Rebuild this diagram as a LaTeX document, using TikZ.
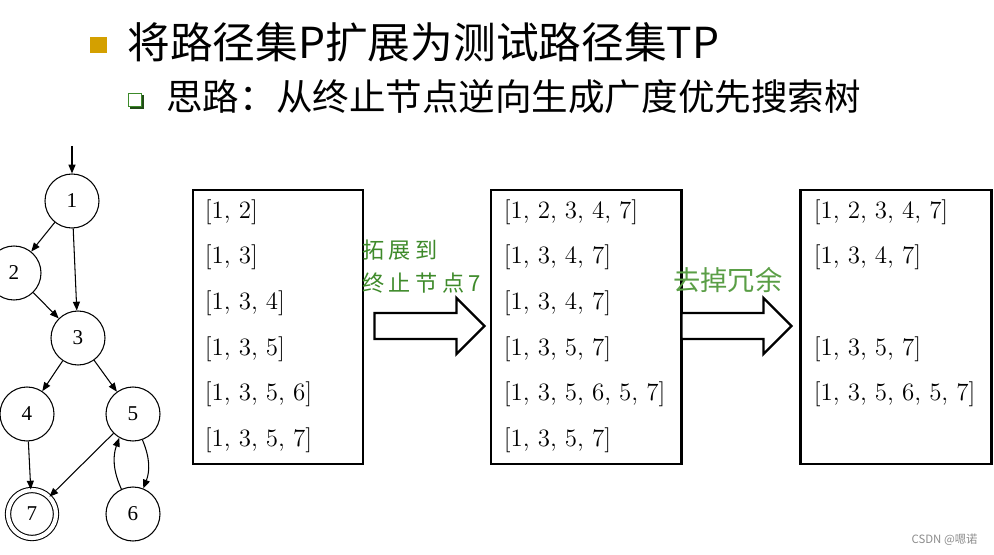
\documentclass[tikz,border=0pt]{standalone}
\usepackage{fontspec}
\usepackage{xcolor}
\usepackage{tikz}
\usetikzlibrary{arrows.meta,positioning,calc}
\newfontfamily\cjk{Noto Sans CJK SC}
\newfontfamily\cjkspaced[LetterSpace=20]{Noto Sans CJK SC}
\newfontfamily\timesfont{Liberation Serif}
\definecolor{bulletgold}{HTML}{D4A000}
\definecolor{bulletgreen}{HTML}{3C8A2A}
\definecolor{notegreen}{HTML}{3E8A2A}
\definecolor{notegreenlight}{HTML}{5A9E46}
\definecolor{markgray}{HTML}{8C8C8C}

\begin{document}
\begin{tikzpicture}[x=0.2mm, y=-0.2mm, >={Triangle[length=5pt, width=4pt]},
    state/.style={circle, draw, line width=0.6pt, minimum size=10.8mm, inner sep=0pt,
                  font=\timesfont\fontsize{12}{12}\selectfont},
    finalstate/.style={state, minimum size=9.6mm, double, double distance=2.4pt},
    edge/.style={->, line width=0.6pt},
    listbox/.style={draw, line width=1.7pt, minimum height=54.8mm, inner sep=0pt},
    pathtext/.style={anchor=west, inner sep=0pt, font=\fontsize{14.2}{17}\selectfont},
    hollowarrow/.style={draw, line width=1.4pt, line join=miter, fill=white}]

\useasboundingbox (0,0) rectangle (994,555);

%%% ---------- titulos ----------
\fill[bulletgold] (90,37) rectangle (107,53);
\node[anchor=west, inner sep=0pt, font=\cjk\fontsize{24.3}{28}\selectfont] (title) at (127,42)
    {将路径集P扩展为测试路径集TP};

\fill[bulletgreen!55!black] (130,95) rectangle (144,109);
\draw[bulletgreen, line width=1pt, fill=white] (128.5,93.5) rectangle (141.5,106.5);
\node[anchor=west, inner sep=0pt, font=\cjk\fontsize{20.8}{24}\selectfont] (subtitle) at (166,97)
    {思路：从终止节点逆向生成广度优先搜索树};

%%% ---------- grafo ----------
\node[state] (n1) at (72,201) {1};
\node[state] (n2) at (14,273) {2};
\node[state] (n3) at (78,338) {3};
\node[state] (n4) at (27,414) {4};
\node[state] (n5) at (133,414) {5};
\node[finalstate] (n7) at (32,514) {7};
\node[state] (n6) at (133,514) {6};
\coordinate (entry) at (72,146);

\draw[edge] (entry) -- (n1);
\draw[edge] (n1) -- (n2);
\draw[edge] (n1) -- (n3);
\draw[edge] (n2) -- (n3);
\draw[edge] (n3) -- (n4);
\draw[edge] (n3) -- (n5);
\draw[edge] (n4) -- (n7);
\draw[edge] (n5) -- (n7);
\draw[edge] (n5.-70) to[bend left=22] (n6.68);
\draw[edge] (n6.115) to[bend left=22] (n5.-120);

%%% ---------- cajas ----------
\node[listbox, minimum width=34mm] (boxA) at (278,327) {};
\node[listbox, minimum width=38mm] (boxB) at (586,327) {};
\node[listbox, minimum width=38.2mm] (boxC) at (895.5,327) {};

\foreach \txt [count=\i] in {{[1, 2]},{[1, 3]},{[1, 3, 4]},{[1, 3, 5]},{[1, 3, 5, 6]},{[1, 3, 5, 7]}}
    \node[pathtext] (pa\i) at ($(boxA.west |- 0,{212+45.6*(\i-1)})+(13,0)$) {\txt};

\foreach \txt [count=\i] in {{[1, 2, 3, 4, 7]},{[1, 3, 4, 7]},{[1, 3, 4, 7]},{[1, 3, 5, 7]},{[1, 3, 5, 6, 5, 7]},{[1, 3, 5, 7]}}
    \node[pathtext] (pb\i) at ($(boxB.west |- 0,{212+45.6*(\i-1)})+(14,0)$) {\txt};

\foreach \i/\txt in {1/{[1, 2, 3, 4, 7]},2/{[1, 3, 4, 7]},4/{[1, 3, 5, 7]},5/{[1, 3, 5, 6, 5, 7]}}
    \node[pathtext] (pc\i) at ($(boxC.west |- 0,{212+45.6*(\i-1)})+(15,0)$) {\txt};

%%% ---------- flechas huecas ----------
\def\blockarrow#1{
    \draw[hollowarrow, shift={#1}]
        (0,-13) -- (82,-13) -- (82,-28) -- (110,0) -- (82,28) -- (82,13) -- (0,13) -- cycle;
}
\blockarrow{($(boxA.east)+(10,-1)$)}
\blockarrow{($(boxB.east)+(-1,-1)$)}

\node[anchor=west, inner sep=0pt, font=\cjkspaced\fontsize{12.6}{14}\selectfont, text=notegreen]
    (expand1) at (362,250) {拓展到};
\node[anchor=west, inner sep=0pt, font=\cjkspaced\fontsize{12.6}{14}\selectfont, text=notegreen]
    (expand2) at (362,283) {终止节点7};
\node[anchor=west, inner sep=0pt, font=\cjk\fontsize{15.5}{18}\selectfont, text=notegreenlight]
    (prune) at (673,280) {去掉冗余};

% marca de agua
\node[anchor=east, inner sep=0pt, font=\cjk\fontsize{6.5}{8}\selectfont, text=markgray]
    (mark) at (978,540) {CSDN @嗯诺};

\end{tikzpicture}
\end{document}
